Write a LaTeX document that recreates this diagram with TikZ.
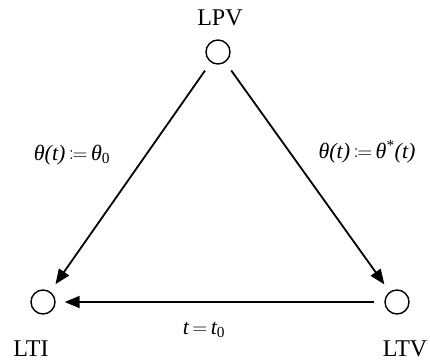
\documentclass[tikz,border=0pt]{standalone}
\usepackage{fontspec}
\setmainfont{Liberation Serif}
\usepackage{mathtools}
\usepackage{tikz}
\usetikzlibrary{arrows.meta, positioning}

\begin{document}
\begin{tikzpicture}[x=1pt, y=-1pt, font=\fontsize{22}{24}\selectfont,
  model/.style={draw, circle, minimum size=24pt, inner sep=0pt, line width=1.4pt},
  modeltxt/.style={font=\fontsize{24}{26}\selectfont},
  arr/.style={-{Triangle[length=15pt, width=12pt]}, line width=1.8pt, shorten <=10pt, shorten >=9pt}]
\useasboundingbox (0,0) rectangle (430,362);

% model classes
\node[model] (lpv) at (218,52) {};
\node[model] (lti) at (43,302) {};
\node[model] (ltv) at (397,302) {};

\node[modeltxt] (lpvtxt) at (220,18) {LPV};
\node[modeltxt] (ltitxt) at (31,349) {LTI};
\node[modeltxt] (ltvtxt) at (405,349) {LTV};

% specialisations
\draw[arr] (lpv) -- (lti);
\draw[arr] (lpv) -- (ltv);
\draw[arr] (ltv) -- (lti);

\node (fixpar) at (72,155) {{\itshape θ(t)}$\,\coloneqq\,${\itshape θ}\textsubscript{0}};
\node (traj) at (367,152) {{\itshape θ(t)}$\,\coloneqq\,${\itshape θ}\textsuperscript{*}{\itshape (t)}};
\node (freeze) at (204,330) {{\itshape t}$\,=\,${\itshape t}\textsubscript{0}};
\end{tikzpicture}
\end{document}
